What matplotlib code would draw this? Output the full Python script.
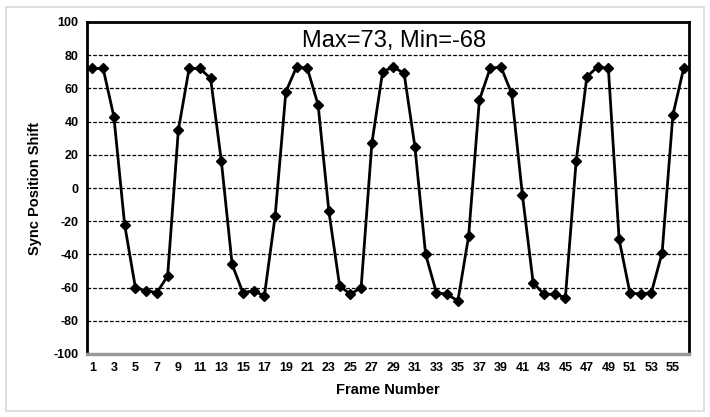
import matplotlib
matplotlib.use("Agg")
import matplotlib.pyplot as plt
from matplotlib.patches import Rectangle

plt.rcParams['font.family'] = ['Liberation Sans', 'DejaVu Sans']

# data
frames = list(range(1, 57))
shift = [72, 72, 43, -22, -60, -62, -63, -53, 35, 72,
         72, 66, 16, -46, -63, -62, -65, -17, 58, 73,
         72, 50, -14, -59, -64, -60, 27, 70, 73, 69,
         25, -40, -63, -64, -68, -29, 53, 72, 73, 57,
         -4, -57, -64, -64, -66, 16, 67, 73, 72, -31,
         -63, -64, -63, -39, 44, 72]
xtick_labels = [str(i) for i in range(1, 57, 2)]
ytick_vals = list(range(-100, 101, 20))
title_txt = "Max=73, Min=-68"

fig = plt.figure(figsize=(7.1, 4.17), dpi=100)
ax = fig.add_axes([87/710, 1-354/417, (689-87)/710, (354-22)/417])

# light outer frame of the chart area
fig.patches.append(Rectangle((6/710, 6/417), 698/710, 404/417, transform=fig.transFigure,
                             fill=False, edgecolor='#d9d9d9', linewidth=1.2))

for yv in range(-80, 81, 20):
    ax.axhline(yv, color='black', linestyle=(0, (3, 1.5)), linewidth=0.9, zorder=1)

ax.plot(frames, shift, color='black', linewidth=2, marker='D', markersize=5.5,
        markerfacecolor='black', zorder=3)

ax.set_xlim(0.5, 56.5)
ax.set_ylim(-100, 100)
ax.set_xticks(range(1, 57, 2))
ax.set_xticklabels(xtick_labels, fontsize=9, fontweight='bold')
ax.set_yticks(ytick_vals)
ax.set_yticklabels([str(v) for v in ytick_vals], fontsize=9, fontweight='bold')
ax.tick_params(length=0, pad=6)

for s in ['top', 'left', 'right']:
    ax.spines[s].set_linewidth(2)
    ax.spines[s].set_color('black')
ax.spines['bottom'].set_linewidth(2.5)
ax.spines['bottom'].set_color('#999999')

ax.set_xlabel("Frame Number", fontsize=10.5, fontweight='bold', labelpad=6)
ax.set_ylabel("Sync Position Shift", fontsize=10.5, fontweight='bold', labelpad=8)

ax.text(0.51, 0.944, title_txt, transform=ax.transAxes, ha='center', va='center',
        fontsize=17, zorder=4)

fig.savefig("out.png", dpi=100)
